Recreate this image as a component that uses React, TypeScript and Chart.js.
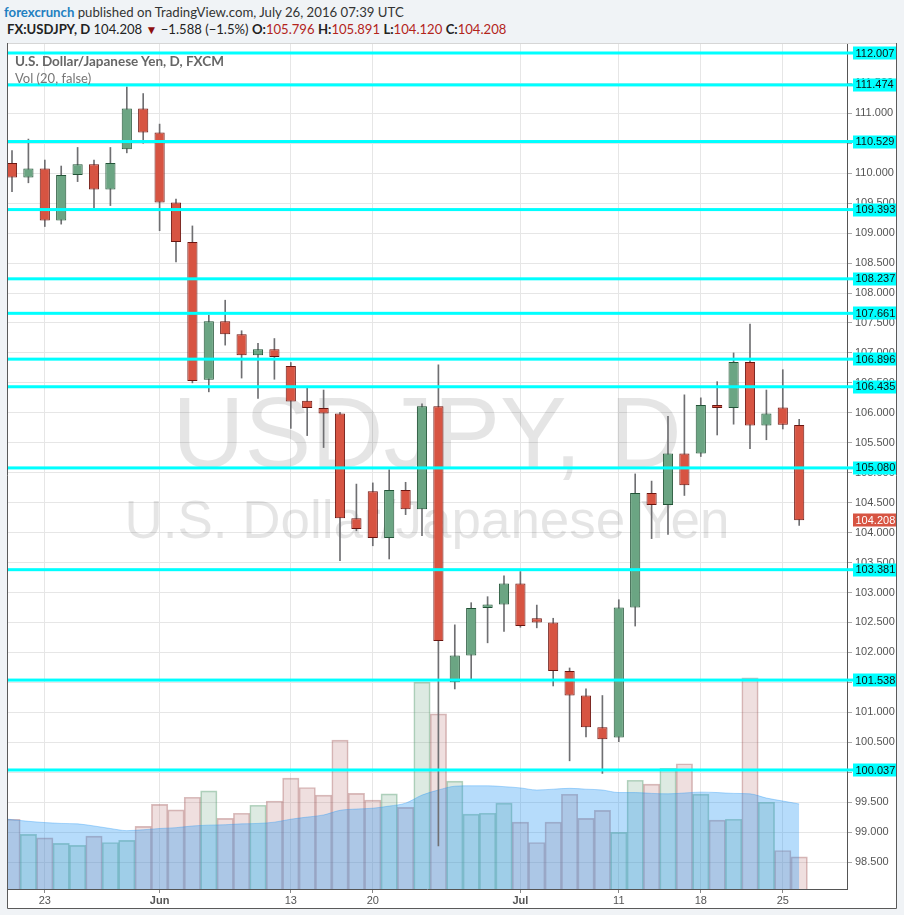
import React, { useEffect, useRef } from "react";
import { Chart, registerables } from "chart.js";

Chart.register(...registerables);

// ---------------- data ----------------
const DATES = [
  "2016-05-19", "2016-05-20", "2016-05-23", "2016-05-24", "2016-05-25", "2016-05-26", "2016-05-27", "2016-05-30", "2016-05-31",
  "2016-06-01", "2016-06-02", "2016-06-03", "2016-06-06", "2016-06-07", "2016-06-08", "2016-06-09", "2016-06-10",
  "2016-06-13", "2016-06-14", "2016-06-15", "2016-06-16", "2016-06-17", "2016-06-20", "2016-06-21", "2016-06-22",
  "2016-06-23", "2016-06-24", "2016-06-27", "2016-06-28", "2016-06-29", "2016-06-30",
  "2016-07-01", "2016-07-04", "2016-07-05", "2016-07-06", "2016-07-07", "2016-07-08", "2016-07-11", "2016-07-12",
  "2016-07-13", "2016-07-14", "2016-07-15", "2016-07-18", "2016-07-19", "2016-07-20", "2016-07-21", "2016-07-22",
  "2016-07-25", "2016-07-26",
];

const OPEN = [
  110.17, 109.93, 110.08, 109.21, 109.97, 110.15, 109.73, 110.40, 111.08,
  110.68, 109.51, 108.85, 106.55, 107.53, 107.31, 106.96, 107.06,
  106.78, 106.20, 106.08, 105.99, 104.24, 104.69, 103.91, 104.71,
  104.39, 106.11, 101.50, 101.95, 102.74, 102.80,
  103.15, 102.57, 102.50, 101.69, 101.28, 100.75, 100.58, 102.75,
  104.66, 104.46, 105.32, 105.32, 106.13, 106.08, 106.85, 105.79,
  106.09, 105.796,
];
const HIGH = [
  110.38, 110.57, 110.22, 110.12, 110.43, 110.22, 110.43, 111.44, 111.33,
  110.82, 109.57, 109.12, 107.63, 107.88, 107.37, 107.16, 107.24,
  106.84, 106.41, 106.38, 106.01, 104.81, 104.83, 105.05, 104.84,
  106.15, 106.80, 102.46, 102.83, 102.93, 103.28,
  103.35, 102.79, 102.57, 101.74, 101.39, 101.28, 102.88, 104.98,
  104.86, 105.94, 106.30, 106.25, 106.52, 107.00, 107.48, 106.38,
  106.72, 105.891,
];
const LOW = [
  109.69, 109.84, 109.11, 109.15, 109.86, 109.42, 109.46, 110.34, 110.50,
  109.04, 108.52, 106.50, 106.35, 107.13, 106.58, 106.24, 106.56,
  105.74, 105.62, 105.42, 103.53, 104.03, 103.78, 103.56, 104.30,
  103.95, 98.77, 101.39, 101.55, 102.16, 102.35,
  102.42, 102.41, 101.44, 100.19, 100.59, 99.98, 100.51, 102.44,
  103.90, 103.97, 104.62, 105.27, 105.63, 105.81, 105.40, 105.55,
  105.73, 104.120,
];
const CLOSE = [
  109.93, 110.08, 109.21, 109.97, 110.15, 109.73, 110.17, 111.08, 110.68,
  109.51, 108.85, 106.53, 107.53, 107.31, 106.96, 107.06, 106.93,
  106.19, 106.08, 105.99, 104.24, 104.06, 103.91, 104.71, 104.39,
  106.11, 102.19, 101.95, 102.74, 102.80, 103.15,
  102.44, 102.50, 101.69, 101.28, 100.75, 100.55, 102.75, 104.66,
  104.46, 105.32, 104.79, 106.13, 106.08, 106.85, 105.79, 105.99,
  105.80, 104.208,
];

// volume (thousands)
const VOLUME = [
  16.5, 12.9, 12.1, 10.8, 10.3, 12.5, 11.0, 11.5, 14.8,
  20.0, 18.7, 21.7, 23.2, 16.7, 17.9, 19.8, 20.8,
  26.2, 24.0, 22.2, 35.2, 22.6, 21.0, 22.5, 19.3,
  48.9, 41.4, 25.5, 17.7, 17.9, 20.3,
  15.8, 11.0, 15.8, 22.4, 16.7, 18.6, 13.4, 25.7,
  24.8, 28.5, 29.6, 22.4, 16.3, 16.5, 49.9, 20.5,
  9.1, 7.6,
];
// 20-day volume moving average; VOL_MA_PREV is the value of the day before the first date
const VOL_MA_PREV = 16.8;
const VOL_MA = [
  16.4, 16.0, 15.7, 15.5, 15.4, 14.9, 14.3, 13.8, 14.0,
  14.3, 14.5, 14.9, 15.1, 15.2, 15.4, 15.5, 15.8,
  16.5, 17.0, 17.5, 18.6, 18.9, 19.1, 19.6, 20.3,
  22.2, 23.4, 24.3, 24.4, 24.4, 24.2,
  23.9, 23.4, 23.6, 23.8, 23.6, 23.4, 22.8, 22.8,
  22.6, 22.5, 22.7, 22.9, 22.8, 22.6, 22.5, 21.5,
  20.8, 20.1,
];

const LEVELS = [112.007, 111.474, 110.529, 109.393, 108.237, 107.661, 106.896, 106.435, 105.080, 103.381, 101.538, 100.037];
const LAST_PRICE = 104.208;

const Y_TICKS = [
  98.5, 99.0, 99.5, 100.0, 100.5, 101.0, 101.5, 102.0, 102.5, 103.0, 103.5, 104.0, 104.5,
  105.0, 105.5, 106.0, 106.5, 107.0, 107.5, 108.0, 108.5, 109.0, 109.5, 110.0, 110.5, 111.0, 111.5, 112.0,
];
const TICK_DATES = ["2016-05-23", "2016-06-01", "2016-06-13", "2016-06-20", "2016-07-01", "2016-07-11", "2016-07-18", "2016-07-25"];
const TICK_LABELS = ["23", "Jun", "13", "20", "Jul", "11", "18", "25"];

const WATERMARK_1 = "USDJPY, D";
const WATERMARK_2 = "U.S. Dollar/Japanese Yen";

// ---------------- style ----------------
const AXIS_FONT = '"Liberation Sans", Arial, sans-serif';
const UI_FONT = 'Lato, "Open Sans", sans-serif';
const UP_FILL = "#6ba583";
const UP_LINE = "#225437";
const DN_FILL = "#d75442";
const DN_LINE = "#6b1510";
const CYAN = "#00ffff";

const X_MIN = -0.305;
const X_MAX = 50.915;
const Y_MIN = 98.05;
const Y_MAX = 112.174;
const VOL_AXIS_MAX = 200;

const isUp = (i: number) => CLOSE[i] >= OPEN[i];

const overlayPlugin = {
  id: "overlay",
  beforeDatasetsDraw(chart: any) {
    const { ctx, chartArea: a } = chart;
    ctx.save();
    ctx.beginPath();
    ctx.rect(a.left, a.top, a.right - a.left, a.bottom - a.top);
    ctx.clip();
    const cx = (a.left + a.right) / 2;
    const cy = (a.top + a.bottom) / 2;
    ctx.fillStyle = "rgba(0,0,0,0.1)";
    ctx.textAlign = "center";
    ctx.textBaseline = "alphabetic";
    ctx.font = `100px ${AXIS_FONT}`;
    ctx.fillText(WATERMARK_1, cx, cy + 1);
    ctx.font = `53px ${AXIS_FONT}`;
    ctx.fillText(WATERMARK_2, cx, cy + 72);
    ctx.restore();
  },
  afterDatasetsDraw(chart: any) {
    const { ctx, chartArea: a, width } = chart;
    const ys = chart.scales.y;
    ctx.save();
    ctx.font = `11px ${AXIS_FONT}`;
    ctx.textBaseline = "middle";
    ctx.textAlign = "left";
    LEVELS.forEach((lv) => {
      const py = ys.getPixelForValue(lv);
      ctx.fillStyle = CYAN;
      ctx.fillRect(a.left, py - 1.5, a.right - a.left + 6, 3);
      ctx.fillRect(a.right + 6, Math.round(py) - 6.5, width - a.right - 6, 13);
      ctx.fillStyle = "#111";
      ctx.fillText(lv.toFixed(3), a.right + 8.5, py + 0.5);
    });
    const pp = ys.getPixelForValue(LAST_PRICE);
    ctx.fillStyle = "#d75442";
    ctx.fillRect(a.right + 6, Math.round(pp) - 6.5, width - a.right - 6, 13);
    ctx.fillStyle = "#ffffff";
    ctx.fillText(LAST_PRICE.toFixed(3), a.right + 8.5, pp + 0.5);
    ctx.restore();
  },
  afterDraw(chart: any) {
    const { ctx, width, height } = chart;
    ctx.save();
    ctx.lineWidth = 1;
    ctx.strokeStyle = "#d6d6d6";
    ctx.beginPath();
    ctx.moveTo(0, 0.5);
    ctx.lineTo(width, 0.5);
    ctx.stroke();
    ctx.strokeStyle = "#5a5a5a";
    ctx.beginPath();
    ctx.moveTo(0.5, 0);
    ctx.lineTo(0.5, height - 0.5);
    ctx.lineTo(width - 0.5, height - 0.5);
    ctx.lineTo(width - 0.5, 0);
    ctx.stroke();
    ctx.restore();
  },
};

export default function App() {
  const canvasRef = useRef<HTMLCanvasElement | null>(null);

  useEffect(() => {
    const canvas = canvasRef.current;
    if (!canvas) return;
    const tickIndex = TICK_DATES.map((d) => DATES.indexOf(d));

    const chart = new Chart(canvas, {
      type: "bar",
      data: {
        datasets: [
          {
            type: "bar",
            label: "body",
            data: DATES.map((_, i) => ({ x: i, y: [OPEN[i], CLOSE[i]] })),
            backgroundColor: DATES.map((_, i) => (isUp(i) ? UP_FILL : DN_FILL)),
            borderColor: DATES.map((_, i) => (isUp(i) ? UP_LINE : DN_LINE)),
            borderWidth: 1,
            borderSkipped: false,
            grouped: false,
            barPercentage: 0.62,
            categoryPercentage: 1,
            yAxisID: "y",
            order: 0,
          } as any,
          {
            type: "bar",
            label: "wick",
            data: DATES.map((_, i) => ({ x: i, y: [LOW[i], HIGH[i]] })),
            backgroundColor: "#6f6f72",
            borderWidth: 0,
            grouped: false,
            barPercentage: 1,
            categoryPercentage: 1,
            maxBarThickness: 1,
            yAxisID: "y",
            order: 1,
          } as any,
          {
            type: "line",
            label: "Vol MA",
            data: [{ x: -1, y: VOL_MA_PREV }, ...DATES.map((_, i) => ({ x: i, y: VOL_MA[i] }))],
            borderColor: "rgba(33,150,243,0.35)",
            borderWidth: 1,
            backgroundColor: "rgba(33,150,243,0.33)",
            fill: "origin",
            pointRadius: 0,
            cubicInterpolationMode: "monotone",
            yAxisID: "yv",
            order: 2,
          } as any,
          {
            type: "bar",
            label: "Volume",
            data: DATES.map((_, i) => ({ x: i, y: VOLUME[i] })),
            backgroundColor: DATES.map((_, i) => (isUp(i) ? "rgba(107,165,131,0.23)" : "rgba(190,120,120,0.24)")),
            borderColor: DATES.map((_, i) => (isUp(i) ? "rgba(90,160,115,0.45)" : "rgba(165,95,95,0.42)")),
            borderWidth: 1,
            grouped: false,
            barPercentage: 1,
            categoryPercentage: 1,
            yAxisID: "yv",
            order: 3,
          } as any,
        ],
      },
      options: {
        responsive: false,
        animation: false,
        devicePixelRatio: 1,
        events: [],
        layout: { padding: 0 },
        plugins: {
          legend: { display: false },
          tooltip: { enabled: false },
          title: { display: false },
        },
        scales: {
          x: {
            type: "linear",
            position: "bottom",
            min: X_MIN,
            max: X_MAX,
            bounds: "data",
            offset: false,
            grid: { color: "#e6e6e6", offset: false, drawTicks: true, tickLength: 4, tickColor: "#888" },
            border: { display: true, color: "#555", width: 1 },
            ticks: {
              autoSkip: false,
              maxRotation: 0,
              minRotation: 0,
              padding: 1,
              color: "#555",
              font: (ctx: any) => {
                const lbl = TICK_LABELS[ctx.index] || "";
                return { family: AXIS_FONT, size: 11, weight: isNaN(Number(lbl)) ? "bold" : "normal" };
              },
              callback: (_v: any, i: number) => TICK_LABELS[i],
            },
            afterBuildTicks: (axis: any) => {
              axis.ticks = tickIndex.map((v) => ({ value: v }));
            },
            afterFit: (s: any) => {
              s.height = 20;
              s.paddingLeft = 0;
              s.paddingRight = 0;
            },
          },
          y: {
            type: "linear",
            position: "right",
            min: Y_MIN,
            max: Y_MAX,
            bounds: "data",
            grid: { color: "#e6e6e6", drawTicks: true, tickLength: 5, tickColor: "#aaa" },
            border: { display: true, color: "#555", width: 1 },
            ticks: {
              autoSkip: false,
              padding: 3,
              color: "#555",
              font: { family: AXIS_FONT, size: 11 },
              callback: (v: any) => Number(v).toFixed(3),
            },
            afterBuildTicks: (axis: any) => {
              axis.ticks = Y_TICKS.map((v) => ({ value: v }));
            },
            afterFit: (s: any) => {
              s.width = 50;
              s.paddingTop = 0;
              s.paddingBottom = 0;
            },
          },
          yv: {
            type: "linear",
            display: false,
            min: 0,
            max: VOL_AXIS_MAX,
          },
        },
      } as any,
      plugins: [overlayPlugin],
    });
    return () => chart.destroy();
  }, []);

  const red = "#b3241b";
  return (
    <div
      style={{
        position: "absolute",
        left: 0,
        top: 0,
        width: 904,
        height: 915,
        background: "#f0f3f6",
        overflow: "hidden",
        fontFamily: UI_FONT,
      }}
    >
      <div style={{ position: "absolute", left: 4, top: 3, fontSize: 13.2, color: "#333", whiteSpace: "nowrap", lineHeight: "18px" }}>
        <span style={{ color: "#1f80c1", fontWeight: 700 }}>forexcrunch</span> published on TradingView.com, July 26, 2016 07:39 UTC
      </div>
      <div style={{ position: "absolute", left: 7, top: 20, fontSize: 13.1, color: "#222", whiteSpace: "nowrap", lineHeight: "18px" }}>
        <b>FX:USDJPY, D</b> 104.208 <span style={{ color: "#8e0f0f", fontSize: 12 }}>▼</span> −1.588 (−1.5%){" "}
        <b>O:</b><span style={{ color: red }}>105.796</span> <b>H:</b><span style={{ color: red }}>105.891</span>{" "}
        <b>L:</b><span style={{ color: red }}>104.120</span> <b>C:</b><span style={{ color: red }}>104.208</span>
      </div>
      <canvas
        ref={canvasRef}
        width={890}
        height={866}
        style={{ position: "absolute", left: 7, top: 43, width: 890, height: 866, background: "#ffffff" }}
      />
      <div style={{ position: "absolute", left: 15, top: 52, fontSize: 13.5, fontWeight: 700, color: "#666", whiteSpace: "nowrap", lineHeight: "18px" }}>
        U.S. Dollar/Japanese Yen, D, FXCM
      </div>
      <div style={{ position: "absolute", left: 15, top: 69, fontSize: 13, color: "#777", whiteSpace: "nowrap", lineHeight: "18px" }}>
        Vol (20, false)
      </div>
    </div>
  );
}
